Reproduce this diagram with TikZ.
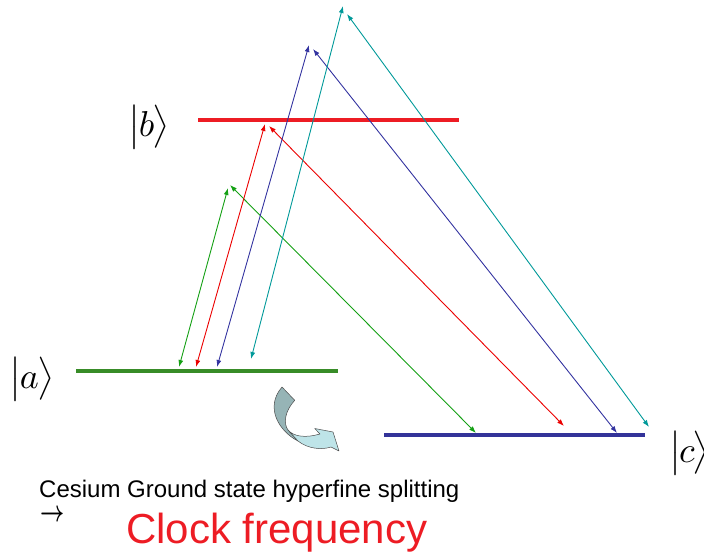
\documentclass[tikz,border=0pt]{standalone}
\usepackage{graphicx}
\usepackage[no-math]{fontspec}
\setmainfont{Liberation Sans}
\usetikzlibrary{arrows.meta}
\definecolor{lvlred}{RGB}{237,28,36}
\definecolor{lvlgreen}{RGB}{56,140,40}
\definecolor{lvlblue}{RGB}{51,51,153}
\definecolor{arrgreen}{RGB}{20,160,20}
\definecolor{arrred}{RGB}{235,0,0}
\definecolor{arrblue}{RGB}{51,51,160}
\definecolor{arrteal}{RGB}{0,153,153}
\definecolor{folddark}{RGB}{150,180,182}
\definecolor{foldlight}{RGB}{190,228,232}
\definecolor{clockred}{RGB}{237,28,36}
\newcommand{\myket}[1]{\scalebox{3.6}{$\bigl|\mkern-1mu#1\mkern-1mu\bigr\rangle$}}
\tikzset{
  level/.style={line width=3.5pt},
  trans/.style={line width=0.9pt, {Latex[length=7pt,width=5pt]}-{Latex[length=7pt,width=5pt]}},
  ket/.style={inner sep=0pt, font=\normalsize},
  fold/.style={draw=black!70, line width=0.5pt, line join=round},
}
\begin{document}
\begin{tikzpicture}[x=1pt,y=-1pt]
\useasboundingbox (0,0) rectangle (704,557);
% level end points
\coordinate (b1) at (198,120); \coordinate (b2) at (459,120);
\coordinate (a1) at (76,371);  \coordinate (a2) at (338,371);
\coordinate (c1) at (384,435); \coordinate (c2) at (645,435);
\draw[level, lvlred] (b1) -- (b2);
\draw[level, lvlgreen] (a1) -- (a2);
\draw[level, lvlblue] (c1) -- (c2);
% kets
\node[ket] (ka) at (32,379) {\myket{a}};
\node[ket] (kb) at (149,127) {\myket{b}};
\node[ket, anchor=west] (kc) at (669,453) {\myket{c}};
% transition end points
\coordinate (gA) at (179,367); \coordinate (gT) at (228,188);
\coordinate (gT2) at (230,185); \coordinate (gC) at (476,433);
\coordinate (rA) at (196,367); \coordinate (rT) at (265,124);
\coordinate (rT2) at (269,126); \coordinate (rC) at (564,426);
\coordinate (nA) at (217,367); \coordinate (nT) at (309,45);
\coordinate (nT2) at (313,49); \coordinate (nC) at (617,433);
\coordinate (tA) at (251,359); \coordinate (tT) at (343,6);
\coordinate (tT2) at (347,14); \coordinate (tC) at (649,427);
\draw[trans, arrgreen] (gA) -- (gT);
\draw[trans, arrgreen] (gT2) -- (gC);
\draw[trans, arrred] (rA) -- (rT);
\draw[trans, arrred] (rT2) -- (rC);
\draw[trans, arrblue] (nA) -- (nT);
\draw[trans, arrblue] (nT2) -- (nC);
\draw[trans, arrteal] (tA) -- (tT);
\draw[trans, arrteal] (tT2) -- (tC);
% curved arrow
\filldraw[fold, fill=folddark] (282,387) -- (294.7,400.3)
  .. controls (285,411) and (283,423) .. (288,430) -- (298,441)
  .. controls (280,432) and (264,408) .. (282,387) -- cycle;
\filldraw[fold, fill=foldlight] (288,430)
  .. controls (294,437) and (306,438) .. (320,434) -- (314.7,428.5)
  -- (333,432) -- (339,451) -- (331,447)
  .. controls (322,450) and (308,449) .. (298,441) -- cycle;
% texts
\node[inner sep=0pt, anchor=base west, font=\fontsize{24}{28}\selectfont] (cesium) at (39,497) {Cesium Ground state hyperfine splitting};
\node[inner sep=0pt, anchor=west] (arrow) at (40,516) {\scalebox{2.1}[3.0]{\boldmath$\rightarrow$}};
\node[inner sep=0pt, anchor=base west, font=\fontsize{42}{48}\selectfont, text=clockred] (clock) at (126,543) {Clock frequency};
\end{tikzpicture}
\end{document}
